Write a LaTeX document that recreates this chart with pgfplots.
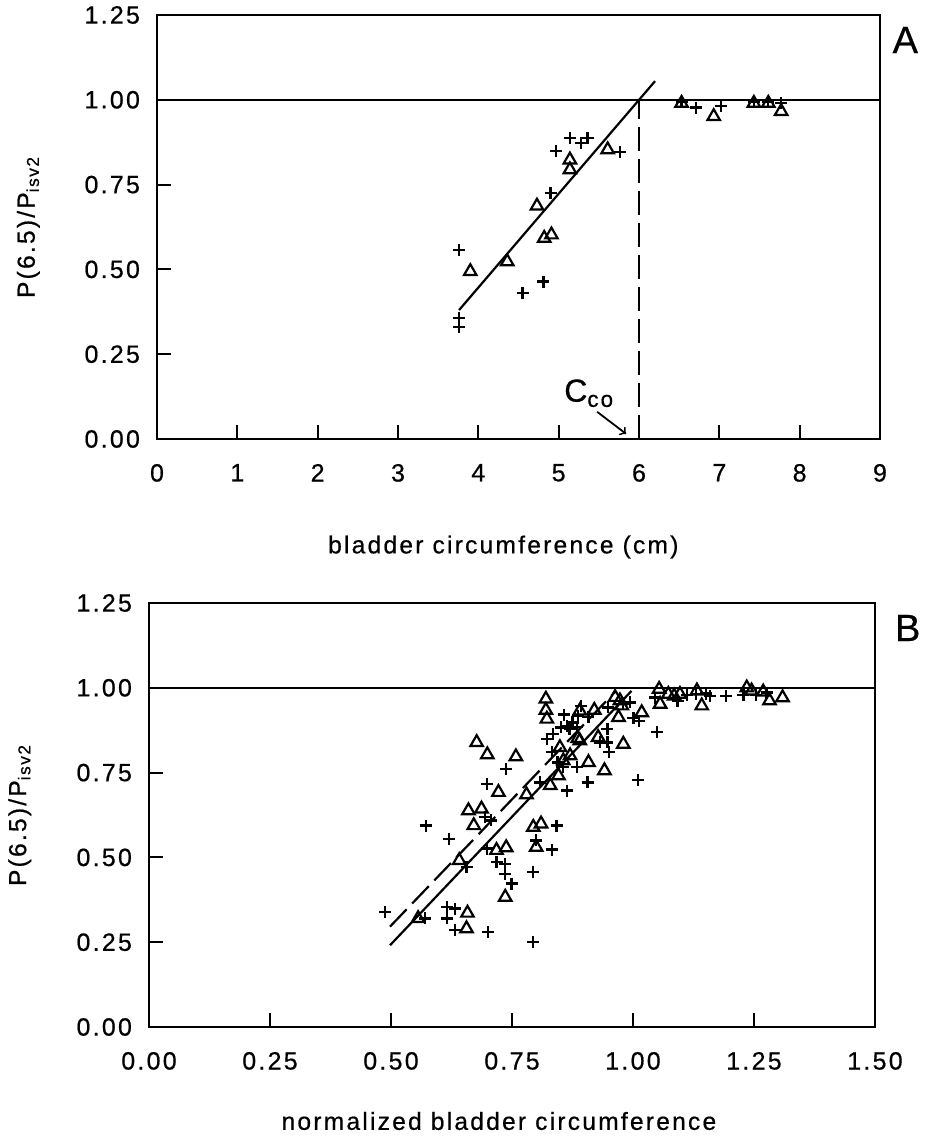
\documentclass[border=0pt]{standalone}
\usepackage{fontspec}
\setmainfont{Liberation Sans}[LetterSpace=9, FakeBold=0.6]
\usepackage{pgfplots}
\pgfplotsset{compat=1.18}
\pgfplotsset{
  myax/.style={
    scale only axis, anchor=south west, clip=false,
    axis line style={line width=1pt},
    tick align=inside, xtick pos=bottom, ytick pos=left,
    major tick length=7pt,
    every tick/.style={black, line width=1pt},
    tick label style={font=\fontsize{12.5}{14}\selectfont},
    /pgf/number format/assume math mode=true,
    label style={font=\fontsize{12.3}{14}\selectfont},
    yticklabel style={xshift=-5pt},
    xticklabel style={yshift=-9pt},
    ylabel style={at={(axis description cs:-0.178,0.5)}, anchor=center},
    ylabel={P(6.5)/P\textsubscript{isv2}},
    ymin=0, ymax=1.25, ytick={0,0.25,0.5,0.75,1,1.25},
    yticklabel style={/pgf/number format/.cd, fixed, fixed zerofill, precision=2},
  },
  cross/.style={only marks, mark=+, mark size=3pt, line width=1.15pt, black},
  tri/.style={only marks, mark=triangle, mark size=3.6pt, line width=1.1pt, black},
}
\begin{document}
\begin{tikzpicture}
\path[use as bounding box] (0,0) rectangle (467pt,573pt);
% Panel A
\begin{axis}[myax, at={(78.5pt,353.5pt)}, width=361.5pt, height=212pt,
  xmin=0, xmax=9, xtick={0,1,2,3,4,5,6,7,8,9},
  xlabel={bladder circumference (cm)},
  xlabel style={at={(axis description cs:0.479,0)}, anchor=center, yshift=-54pt}]
\addplot[black, line width=1pt, no marks] coordinates {(0,1) (9,1)};
\addplot[black, line width=1.1pt, no marks] coordinates {(3.76,0.38) (6.2,1.055)};
\addplot[black, line width=1.2pt, no marks, dash pattern=on 12pt off 4pt] coordinates {(6,0) (6,1)};
\addplot[cross] coordinates {
(3.76,0.557) (3.76,0.356) (3.76,0.331) (4.55,0.430) (4.81,0.464) (4.90,0.725)
(4.97,0.850) (5.14,0.887) (5.28,0.872) (5.36,0.887) (5.76,0.847)
(6.53,0.993) (6.71,0.977) (7.02,0.982) (7.43,0.993) (7.61,0.993) (7.77,0.990)};
\addplot[tri] coordinates {
(3.90,0.494) (4.36,0.523) (4.73,0.687) (4.82,0.592) (4.91,0.602) (5.14,0.823)
(5.14,0.794) (5.61,0.853) (6.53,0.99) (6.93,0.951) (7.43,0.99) (7.61,0.99) (7.77,0.966)};
\node[font=\fontsize{16}{18}\selectfont] at (axis cs:5.38,0.135) {C\textsubscript{co}};
\draw[->, line width=0.9pt] (axis cs:5.48,0.08) -- (axis cs:5.84,0.015);
\node[font=\fontsize{19}{21}\selectfont] at (rel axis cs:1.035,0.941) {A};
\end{axis}
% Panel B
\begin{axis}[myax, at={(74.5pt,59.5pt)}, width=363pt, height=212pt,
  xmin=0, xmax=1.5, xtick={0,0.25,0.5,0.75,1,1.25,1.5},
  xticklabel style={/pgf/number format/.cd, fixed, fixed zerofill, precision=2},
  xlabel={normalized bladder circumference},
  xlabel style={at={(axis description cs:0.482,0)}, anchor=center, yshift=-47pt}]
\addplot[black, line width=1pt, no marks] coordinates {(0,1) (1.5,1)};
\addplot[black, line width=1.1pt, no marks] coordinates {(0.498,0.241) (0.997,0.991)};
\addplot[black, line width=1.1pt, no marks, dash pattern=on 12pt off 4pt] coordinates {(0.498,0.296) (0.965,0.991)};
\addplot[cross] coordinates {
(0.488,0.339) (0.570,0.320) (0.572,0.594) (0.616,0.354) (0.632,0.349) (0.616,0.320)
(0.632,0.285) (0.620,0.555) (0.656,0.471) (0.694,0.619) (0.706,0.609) (0.698,0.526)
(0.701,0.280) (0.718,0.486) (0.736,0.481) (0.736,0.452) (0.749,0.423) (0.793,0.457)
(0.794,0.251) (0.800,0.550) (0.832,0.523) (0.842,0.594) (0.698,0.717) (0.738,0.761)
(0.808,0.721) (0.832,0.810) (0.844,0.780) (0.823,0.849) (0.834,0.864) (0.851,0.883)
(0.869,0.878) (0.884,0.885) (0.858,0.921) (0.875,0.898) (0.892,0.947) (0.908,0.913)
(0.864,0.697) (0.884,0.766) (0.856,0.766) (0.906,0.721) (0.932,0.839) (0.947,0.839)
(0.947,0.878) (0.951,0.810) (0.949,0.942) (0.980,0.952) (0.994,0.957) (1.001,0.911)
(1.013,0.903) (1.011,0.728) (1.050,0.869) (1.045,0.971) (1.092,0.962) (1.111,0.979)
(1.130,0.981) (1.151,0.983) (1.159,0.976) (1.192,0.976) (1.228,0.979) (1.254,0.979)
(1.276,0.986) (0.887,0.918) (0.863,0.888)};
\addplot[tri] coordinates {
(0.556,0.320) (0.641,0.491) (0.656,0.290) (0.658,0.336) (0.660,0.638) (0.671,0.594)
(0.687,0.643) (0.677,0.839) (0.699,0.803) (0.722,0.692) (0.718,0.521) (0.738,0.529)
(0.736,0.383) (0.758,0.797) (0.780,0.685) (0.794,0.589) (0.810,0.599) (0.800,0.530)
(0.820,0.967) (0.820,0.934) (0.822,0.908) (0.829,0.712) (0.846,0.741) (0.849,0.824)
(0.856,0.785) (0.870,0.800) (0.886,0.851) (0.890,0.932) (0.920,0.934) (0.908,0.780)
(0.928,0.854) (0.890,0.844) (0.941,0.756) (0.973,0.962) (0.963,0.972) (0.970,0.913)
(0.980,0.834) (1.018,0.927) (1.054,0.996) (1.056,0.952) (1.073,0.981) (1.085,0.976)
(1.097,0.981) (1.132,0.991) (1.142,0.947) (1.235,1.000) (1.245,0.991) (1.269,0.988)
(1.282,0.962) (1.309,0.971) (0.977,0.947)};
\node[font=\fontsize{19}{21}\selectfont] at (rel axis cs:1.045,0.941) {B};
\end{axis}
\end{tikzpicture}
\end{document}
